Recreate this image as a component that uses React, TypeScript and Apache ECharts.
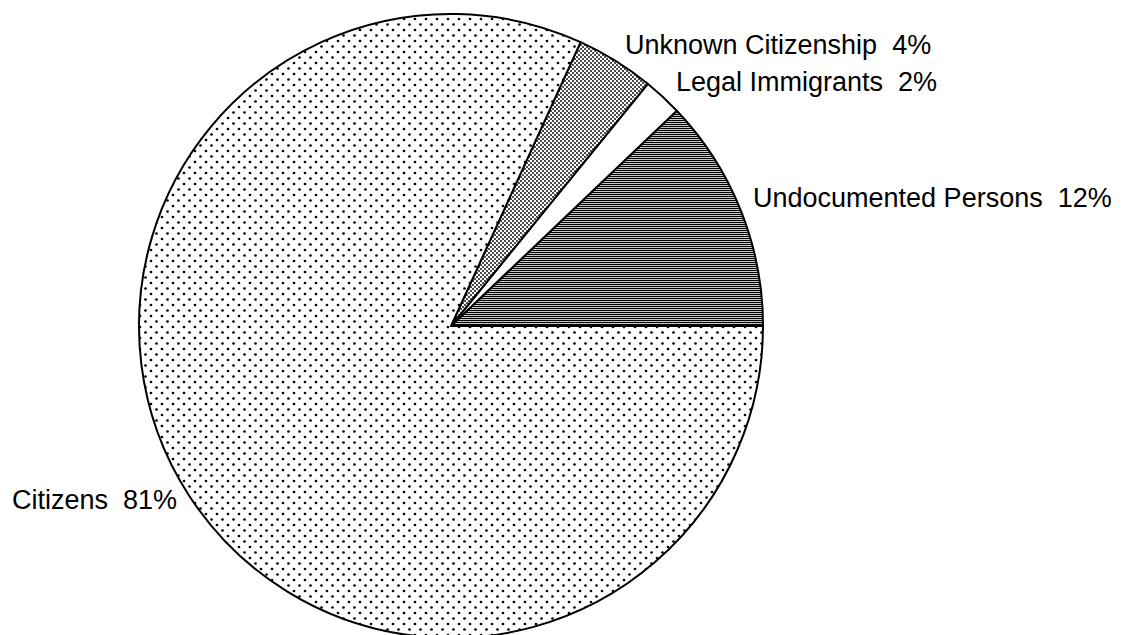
import React, { useEffect, useRef } from "react";
import * as echarts from "echarts";

const categories = ["Undocumented Persons", "Legal Immigrants", "Unknown Citizenship", "Citizens"];
const shares = [12, 2, 4, 81];

// label placement (styling only): [x, y, align]
const labelPlacement: [number, number, string][] = [
  [753, 198, "left"],
  [937, 82, "right"],
  [625, 45, "left"],
  [12, 500, "left"],
];

function makeTile(w: number, h: number, draw: (ctx: CanvasRenderingContext2D) => void) {
  const c = document.createElement("canvas");
  c.width = w;
  c.height = h;
  const ctx = c.getContext("2d")!;
  ctx.fillStyle = "#ffffff";
  ctx.fillRect(0, 0, w, h);
  draw(ctx);
  return { image: c.toDataURL(), repeat: "repeat", imageWidth: w, imageHeight: h } as any;
}

export default function App() {
  const ref = useRef<HTMLDivElement>(null);
  useEffect(() => {
    if (!ref.current) return;
    const chart = echarts.init(ref.current, null, { renderer: "svg" });

    const citizensFill = makeTile(11, 11, (ctx) => {
      ctx.fillStyle = "#000";
      ctx.beginPath();
      ctx.arc(2.5, 2.5, 1.35, 0, Math.PI * 2);
      ctx.fill();
      ctx.beginPath();
      ctx.arc(8, 8, 1.35, 0, Math.PI * 2);
      ctx.fill();
    });
    const unknownFill = makeTile(4, 4, (ctx) => {
      ctx.fillStyle = "#000";
      ctx.beginPath();
      ctx.arc(1, 1, 0.95, 0, Math.PI * 2);
      ctx.fill();
      ctx.beginPath();
      ctx.arc(3, 3, 0.95, 0, Math.PI * 2);
      ctx.fill();
    });
    const undocFill = makeTile(8, 2, (ctx) => {
      ctx.fillStyle = "#000";
      ctx.fillRect(0, 0, 8, 1);
      ctx.fillStyle = "#c8c8c8";
      ctx.fillRect(0, 1, 8, 1);
    });
    const fills = [undocFill, "#ffffff", unknownFill, citizensFill];

    chart.setOption({
      animation: false,
      backgroundColor: "#ffffff",
      series: [
        {
          type: "pie",
          center: [451, 326],
          radius: 312,
          startAngle: 0,
          clockwise: false,
          avoidLabelOverlap: false,
          silent: true,
          itemStyle: { borderColor: "#000", borderWidth: 2 },
          label: {
            show: true,
            position: "outside",
            color: "#000",
            fontSize: 27,
            fontFamily: "Liberation Sans, Arial, sans-serif",
            formatter: (p: any) => `${p.name}  ${p.value}%`,
          },
          labelLine: { show: false },
          labelLayout: (p: any) => {
            const [x, y, align] = labelPlacement[p.dataIndex];
            return { x, y, align, verticalAlign: "middle" };
          },
          data: categories.map((name, i) => ({
            name,
            value: shares[i],
            itemStyle: { color: fills[i] },
          })),
        },
      ],
    });
    return () => chart.dispose();
  }, []);
  return (
    <div
      ref={ref}
      style={{ position: "absolute", left: 0, top: 0, width: 1122, height: 635, background: "#fff" }}
    />
  );
}
